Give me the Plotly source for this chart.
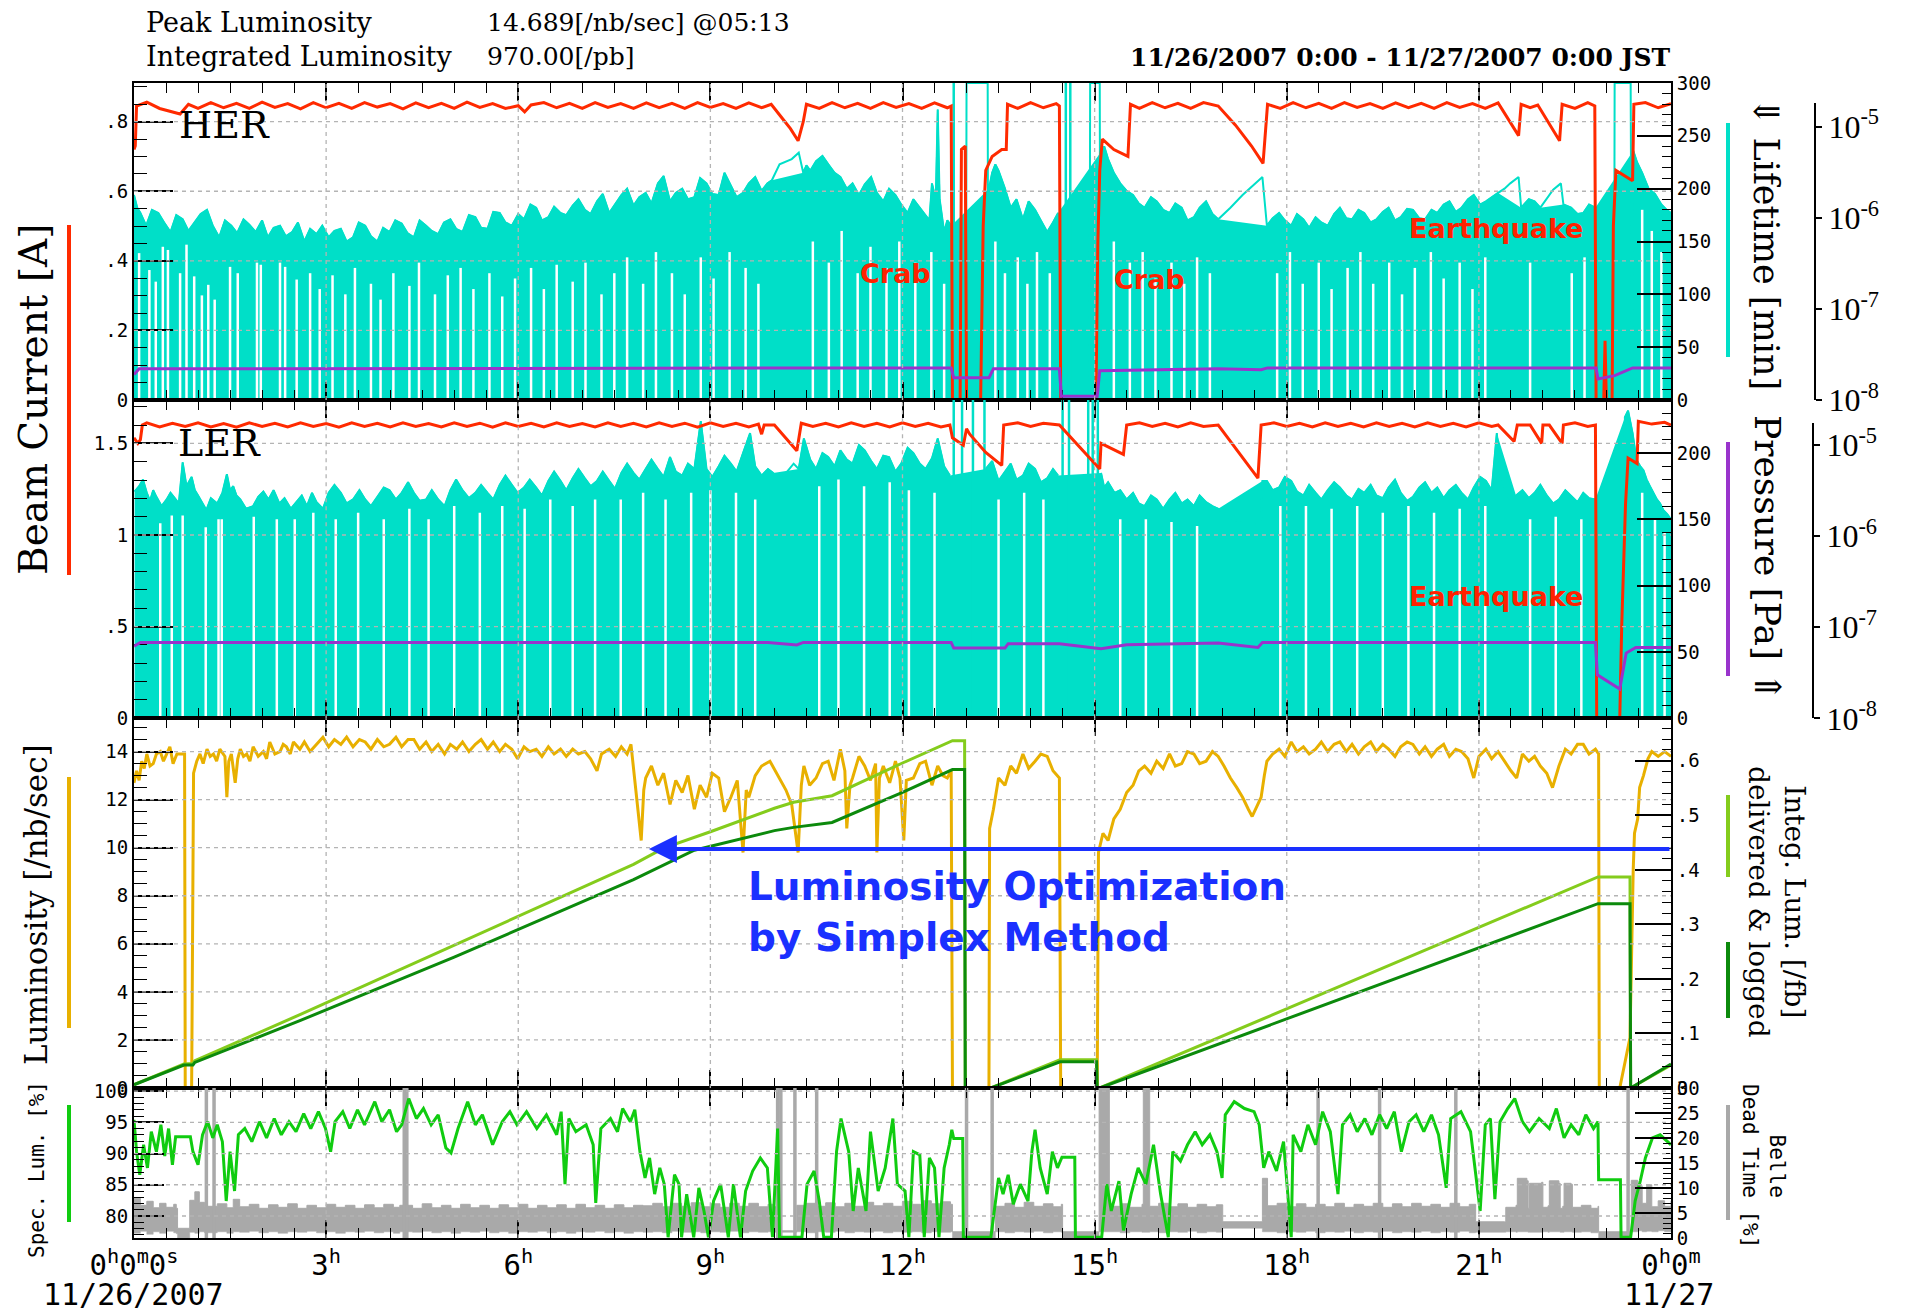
import plotly.graph_objects as go

W, H = 1910, 1308
def px(x): return x / W
def py(y): return 1 - y / H

# ---------------- data (hours since 11/26 0:00) ----------------
her_current = [(0.00,0.72),(0.02,0.73),(0.04,0.845),(0.20,0.856),(0.40,0.838),(0.60,0.828),(0.72,0.822),(0.85,0.850),(1.00,0.838),(1.20,0.855),(1.40,0.840),(1.60,0.853),(1.80,0.838),(2.00,0.856),(2.20,0.841),(2.40,0.852),(2.60,0.837),(2.80,0.855),(3.00,0.840),(3.20,0.853),(3.40,0.838),(3.60,0.855),(3.80,0.842),(4.00,0.852),(4.20,0.837),(4.40,0.854),(4.60,0.840),(4.80,0.853),(5.00,0.838),(5.20,0.856),(5.40,0.841),(5.60,0.852),(5.80,0.838),(6.00,0.846),(6.10,0.828),(6.20,0.848),(6.40,0.855),(6.60,0.840),(6.80,0.853),(7.00,0.838),(7.20,0.855),(7.40,0.841),(7.60,0.852),(7.80,0.838),(8.00,0.854),(8.20,0.840),(8.40,0.853),(8.60,0.838),(8.80,0.855),(9.00,0.841),(9.20,0.852),(9.40,0.838),(9.60,0.854),(9.80,0.840),(9.95,0.850),(10.10,0.815),(10.25,0.780),(10.37,0.745),(10.45,0.800),(10.50,0.850),(10.70,0.838),(10.90,0.855),(11.10,0.840),(11.30,0.853),(11.50,0.838),(11.70,0.855),(11.90,0.841),(12.10,0.852),(12.30,0.838),(12.50,0.854),(12.70,0.840),(12.76,0.845),(12.78,0.0),(12.90,0.0),(12.92,0.72),(12.98,0.73),(13.00,0.0),(13.22,0.0),(13.26,0.50),(13.30,0.66),(13.40,0.70),(13.55,0.72),(13.62,0.72),(13.64,0.850),(13.80,0.838),(14.00,0.855),(14.20,0.840),(14.40,0.852),(14.45,0.845),(14.47,0.0),(15.02,0.0),(15.05,0.45),(15.08,0.66),(15.12,0.75),(15.30,0.72),(15.52,0.70),(15.56,0.850),(15.70,0.838),(15.90,0.855),(16.10,0.840),(16.30,0.853),(16.50,0.838),(16.70,0.855),(16.93,0.845),(17.20,0.790),(17.45,0.730),(17.63,0.680),(17.70,0.850),(17.90,0.838),(18.10,0.855),(18.30,0.840),(18.50,0.853),(18.70,0.838),(18.90,0.855),(19.10,0.841),(19.30,0.852),(19.50,0.838),(19.70,0.854),(19.90,0.840),(20.10,0.853),(20.30,0.838),(20.50,0.855),(20.70,0.841),(20.90,0.852),(21.10,0.838),(21.30,0.854),(21.62,0.760),(21.66,0.850),(21.80,0.840),(21.92,0.848),(22.26,0.745),(22.30,0.850),(22.50,0.838),(22.70,0.855),(22.81,0.845),(22.83,0.0),(22.95,0.0),(22.97,0.17),(22.99,0.0),(23.08,0.0),(23.10,0.50),(23.14,0.66),(23.40,0.63),(23.42,0.850),(23.60,0.855),(23.80,0.840),(24.00,0.852)]

ler_current = [(0.00,1.53),(0.06,1.50),(0.10,1.52),(0.13,1.60),(0.20,1.612),(0.40,1.590),(0.60,1.610),(0.80,1.592),(1.00,1.612),(1.20,1.590),(1.40,1.608),(1.60,1.588),(1.80,1.612),(2.00,1.592),(2.20,1.610),(2.40,1.590),(2.60,1.612),(2.80,1.592),(3.00,1.608),(3.20,1.588),(3.40,1.612),(3.60,1.592),(3.80,1.610),(4.00,1.590),(4.20,1.612),(4.40,1.592),(4.60,1.608),(4.80,1.590),(5.00,1.612),(5.20,1.592),(5.40,1.610),(5.60,1.588),(5.80,1.612),(6.00,1.592),(6.20,1.610),(6.40,1.590),(6.60,1.612),(6.80,1.592),(7.00,1.608),(7.20,1.590),(7.40,1.612),(7.60,1.592),(7.80,1.610),(8.00,1.590),(8.20,1.612),(8.40,1.592),(8.60,1.610),(8.80,1.588),(9.00,1.612),(9.20,1.592),(9.40,1.610),(9.60,1.590),(9.75,1.605),(9.80,1.55),(9.84,1.60),(10.00,1.60),(10.35,1.46),(10.42,1.61),(10.60,1.592),(10.80,1.610),(11.00,1.590),(11.20,1.612),(11.40,1.592),(11.60,1.610),(11.80,1.590),(12.00,1.612),(12.20,1.592),(12.40,1.610),(12.60,1.590),(12.74,1.60),(12.78,1.53),(12.95,1.49),(13.00,1.58),(13.05,1.55),(13.30,1.45),(13.40,1.42),(13.55,1.38),(13.58,1.60),(13.80,1.612),(14.00,1.592),(14.20,1.610),(14.45,1.60),(15.08,1.36),(15.10,1.50),(15.45,1.44),(15.50,1.60),(15.70,1.612),(15.90,1.592),(16.10,1.610),(16.30,1.590),(16.50,1.612),(16.70,1.592),(16.93,1.60),(17.55,1.31),(17.60,1.60),(17.80,1.612),(18.00,1.592),(18.20,1.610),(18.40,1.590),(18.60,1.612),(18.80,1.592),(19.00,1.610),(19.20,1.590),(19.40,1.612),(19.60,1.592),(19.80,1.610),(20.00,1.590),(20.20,1.612),(20.40,1.592),(20.60,1.610),(20.80,1.590),(21.00,1.612),(21.20,1.592),(21.30,1.60),(21.55,1.51),(21.60,1.60),(21.80,1.60),(21.98,1.50),(22.00,1.60),(22.10,1.60),(22.30,1.50),(22.32,1.60),(22.50,1.612),(22.70,1.592),(22.82,1.60),(22.84,0.0),(23.20,0.0),(23.23,0.50),(23.26,0.83),(23.29,1.17),(23.33,1.42),(23.47,1.39),(23.49,1.62),(23.70,1.605),(23.90,1.615),(24.00,1.60)]

her_life = [(0.00,194),(0.05,182),(0.10,177),(0.19,165),(0.28,180),(0.38,177),(0.47,168),(0.57,159),(0.66,175),(0.76,171),(0.85,160),(0.95,169),(1.04,176),(1.14,180),(1.23,165),(1.33,154),(1.42,170),(1.52,165),(1.61,158),(1.71,171),(1.80,166),(1.90,159),(2.00,170),(2.09,154),(2.18,163),(2.28,165),(2.37,155),(2.47,159),(2.56,168),(2.66,150),(2.75,162),(2.85,157),(2.94,165),(3.04,154),(3.13,160),(3.23,162),(3.32,150),(3.42,154),(3.51,168),(3.61,165),(3.70,155),(3.80,150),(3.89,163),(3.99,159),(4.08,170),(4.18,167),(4.27,158),(4.37,154),(4.46,170),(4.56,165),(4.65,160),(4.75,157),(4.84,168),(4.94,171),(5.03,162),(5.13,159),(5.23,175),(5.33,173),(5.42,163),(5.52,162),(5.61,178),(5.71,177),(5.80,168),(5.90,165),(6.00,176),(6.09,171),(6.19,185),(6.28,182),(6.37,170),(6.47,173),(6.56,183),(6.66,177),(6.75,175),(6.85,184),(6.94,190),(7.04,180),(7.13,176),(7.23,188),(7.32,195),(7.42,177),(7.51,185),(7.61,194),(7.70,200),(7.80,184),(7.89,192),(7.99,196),(8.08,186),(8.18,205),(8.27,212),(8.37,188),(8.46,196),(8.56,200),(8.65,190),(8.75,192),(8.84,210),(8.94,205),(9.03,195),(9.13,194),(9.22,215),(9.32,203),(9.41,192),(9.51,196),(9.60,205),(9.70,211),(9.80,198),(9.89,205),(9.96,208),(10.08,223),(10.27,228),(10.38,234),(10.45,215),(10.50,222),(10.56,217),(10.65,226),(10.75,231),(10.84,223),(10.94,215),(11.03,211),(11.13,200),(11.22,205),(11.32,194),(11.41,204),(11.51,211),(11.60,196),(11.70,188),(11.79,200),(11.89,194),(11.98,185),(12.08,177),(12.17,190),(12.27,182),(12.36,175),(12.42,170),(12.46,205),(12.52,190),(12.55,275),(12.58,190),(12.65,159),(12.70,170),(12.76,165),(12.77,None),(12.99,0),(13.00,300),(13.33,300),(13.34,0),(13.35,200),(13.40,215),(13.45,223),(13.50,217),(13.60,200),(13.69,182),(13.78,190),(13.88,171),(13.97,188),(14.07,180),(14.16,170),(14.26,159),(14.35,168),(14.43,177),(14.44,None),(14.92,0),(14.93,300),(15.08,300),(15.09,0),(15.10,235),(15.15,240),(15.21,228),(15.30,215),(15.40,205),(15.50,198),(15.60,194),(15.69,186),(15.78,182),(15.88,192),(15.97,188),(16.07,180),(16.17,177),(16.26,186),(16.36,182),(16.45,170),(16.55,173),(16.64,182),(16.74,188),(16.84,176),(16.93,171),(17.12,182),(17.31,194),(17.50,205),(17.62,211),(17.69,165),(17.78,172),(17.88,177),(17.97,170),(18.07,165),(18.16,176),(18.26,171),(18.35,163),(18.45,173),(18.54,168),(18.64,165),(18.74,176),(18.83,182),(18.93,172),(19.02,171),(19.12,180),(19.21,177),(19.31,168),(19.40,171),(19.50,178),(19.59,182),(19.69,170),(19.78,173),(19.88,181),(19.97,180),(20.07,172),(20.16,171),(20.26,180),(20.35,177),(20.45,185),(20.54,188),(20.64,178),(20.73,182),(20.83,190),(20.92,194),(21.02,185),(21.11,188),(21.20,192),(21.30,196),(21.40,200),(21.49,205),(21.62,211),(21.66,182),(21.78,190),(21.87,188),(21.96,182),(22.06,190),(22.16,199),(22.28,205),(22.32,185),(22.44,182),(22.54,176),(22.63,177),(22.72,185),(22.82,182),(22.83,None),(23.11,0),(23.12,300),(23.37,300),(23.39,0),(23.41,236),(23.47,225),(23.55,215),(23.65,200),(23.75,195),(23.85,185),(23.93,180),(24.00,177)]
her_fill_spans = [(0.0,9.96),(10.45,12.76),(13.35,14.43),(15.10,16.93),(17.69,21.30),(21.66,21.96),(22.32,22.82),(23.41,24.0)]
her_gaps = [(0.08,139),(0.24,123),(0.34,112),(0.45,145),(0.53,142),(0.72,120),(0.82,147),(0.94,117),(1.06,99),(1.16,109),(1.26,95),(1.50,126),(1.62,120),(1.92,130),(1.98,128),(2.28,130),(2.36,126),(2.54,114),(2.75,120),(2.90,105),(3.10,118),(3.30,100),(3.45,125),(3.70,110),(3.85,95),(4.05,120),(4.30,108),(4.45,130),(4.70,100),(4.90,118),(5.10,125),(5.30,105),(5.55,120),(5.75,98),(5.95,115),(6.20,125),(6.40,105),(6.60,128),(6.85,112),(7.05,130),(7.30,100),(7.50,120),(7.70,135),(7.95,110),(8.15,140),(8.40,120),(8.60,100),(8.85,135),(9.05,115),(9.30,140),(9.55,125),(9.75,110),(10.60,150),(10.85,130),(11.05,160),(11.30,120),(11.50,145),(11.75,125),(11.95,150),(12.20,130),(12.45,140),(12.65,110),(13.45,150),(13.60,120),(13.80,135),(13.95,110),(14.10,140),(14.30,120),(15.30,150),(15.55,130),(15.75,140),(15.95,115),(16.20,130),(16.40,110),(16.60,135),(16.80,120),(17.85,120),(18.05,140),(18.25,110),(18.50,130),(18.70,105),(18.95,125),(19.15,140),(19.35,110),(19.60,130),(19.80,100),(20.00,125),(20.25,140),(20.45,115),(20.70,130),(20.90,105),(21.10,135),(21.80,130),(22.45,120),(22.65,135),(23.55,180),(23.70,160),(23.85,140)]
her_spikes = [12.80, 14.55, 14.62]

ler_life = [(0.01,171),(0.08,175),(0.14,180),(0.20,170),(0.25,164),(0.30,172),(0.35,167),(0.43,160),(0.51,165),(0.57,170),(0.62,167),(0.70,162),(0.76,193),(0.82,175),(0.90,182),(0.95,172),(1.00,168),(1.06,163),(1.13,157),(1.20,166),(1.30,162),(1.38,170),(1.45,184),(1.50,172),(1.55,175),(1.60,168),(1.66,165),(1.75,158),(1.86,160),(1.94,167),(2.02,171),(2.10,165),(2.18,172),(2.27,162),(2.35,166),(2.45,158),(2.54,163),(2.62,168),(2.70,160),(2.78,170),(2.85,163),(2.95,158),(3.04,170),(3.13,176),(3.23,170),(3.32,162),(3.42,165),(3.52,172),(3.61,165),(3.70,160),(3.80,167),(3.90,174),(3.99,172),(4.09,165),(4.18,170),(4.28,178),(4.37,170),(4.46,164),(4.56,165),(4.65,172),(4.75,165),(4.85,160),(4.94,172),(5.03,180),(5.13,172),(5.23,166),(5.33,170),(5.42,176),(5.52,170),(5.61,165),(5.71,176),(5.80,183),(5.90,176),(5.99,170),(6.09,174),(6.18,180),(6.28,174),(6.37,168),(6.47,179),(6.56,186),(6.66,179),(6.75,172),(6.85,181),(6.94,188),(7.04,181),(7.13,175),(7.23,179),(7.32,186),(7.42,179),(7.51,173),(7.61,185),(7.70,192),(7.80,185),(7.89,180),(7.99,188),(8.08,195),(8.18,188),(8.27,182),(8.37,197),(8.46,186),(8.56,183),(8.65,192),(8.75,188),(8.85,224),(8.94,188),(9.03,182),(9.13,190),(9.22,198),(9.32,192),(9.41,186),(9.51,200),(9.62,215),(9.70,190),(9.80,183),(9.90,188),(9.98,185),(10.08,179),(10.20,186),(10.30,192),(10.38,188),(10.46,211),(10.56,195),(10.65,188),(10.75,200),(10.84,197),(10.94,190),(11.03,202),(11.13,195),(11.22,192),(11.32,206),(11.41,202),(11.51,194),(11.60,188),(11.70,198),(11.79,197),(11.89,186),(11.98,192),(12.08,204),(12.17,200),(12.27,192),(12.36,188),(12.46,196),(12.55,211),(12.65,190),(12.74,183),(12.77,None),(13.30,188),(13.40,194),(13.50,179),(13.60,186),(13.69,192),(13.78,180),(13.88,183),(13.97,192),(14.07,188),(14.16,178),(14.26,181),(14.35,188),(14.43,183),(14.44,None),(15.10,185),(15.15,174),(15.21,178),(15.31,170),(15.40,172),(15.50,165),(15.60,170),(15.69,162),(15.78,160),(15.88,168),(15.97,165),(16.07,158),(16.17,165),(16.26,170),(16.36,162),(16.45,165),(16.55,160),(16.64,168),(16.74,163),(16.84,160),(16.93,158),(17.12,151),(17.31,147),(17.50,147),(17.60,150),(17.62,179),(17.69,179),(17.78,172),(17.88,174),(17.97,182),(18.07,179),(18.16,171),(18.26,168),(18.35,176),(18.45,170),(18.54,165),(18.64,172),(18.74,178),(18.83,174),(18.93,168),(19.02,165),(19.12,173),(19.21,170),(19.31,176),(19.40,168),(19.50,166),(19.59,174),(19.69,180),(19.78,170),(19.88,164),(19.97,167),(20.07,174),(20.16,178),(20.26,170),(20.35,174),(20.45,166),(20.54,172),(20.64,176),(20.73,170),(20.83,165),(20.92,174),(21.02,182),(21.11,179),(21.20,172),(21.28,215),(21.35,175),(21.42,170),(21.49,165),(21.58,168),(21.68,172),(21.78,166),(21.87,170),(21.96,176),(22.06,168),(22.16,162),(22.25,165),(22.35,172),(22.44,168),(22.54,163),(22.63,170),(22.72,166),(22.82,165),(22.83,None),(23.27,0),(23.28,227),(23.33,232),(23.40,215),(23.46,195),(23.52,190),(23.57,187),(23.62,180),(23.67,175),(23.72,170),(23.78,165),(23.83,162),(23.88,157),(23.94,154),(24.00,150)]
ler_fill_spans = [(0.0,9.98),(10.38,12.76),(13.30,14.43),(15.10,16.93),(17.62,21.30),(21.58,22.82),(23.28,24.0)]
ler_gaps = [(0.41,147),(0.59,153),(0.76,153),(1.12,144),(1.32,150),(1.37,150),(1.87,152),(2.23,150),(2.51,150),(2.80,155),(3.15,150),(3.50,155),(3.90,150),(4.30,158),(4.60,150),(5.00,160),(5.40,155),(5.75,160),(6.10,158),(6.50,165),(6.85,160),(7.20,165),(7.60,165),(7.95,170),(8.30,165),(8.70,170),(9.00,172),(9.40,170),(9.70,165),(10.70,175),(11.00,180),(11.40,175),(11.80,178),(12.10,172),(12.50,170),(13.50,165),(13.90,170),(14.20,165),(15.40,150),(15.80,150),(16.20,148),(16.60,145),(17.90,160),(18.30,160),(18.70,158),(19.10,160),(19.50,155),(19.90,160),(20.30,155),(20.70,158),(21.10,160),(21.80,150),(22.20,152),(22.60,150),(23.55,170),(23.75,150),(23.90,140)]
ler_spikes = [12.80, 12.93, 13.10, 13.28, 14.50, 14.60, 14.90, 14.97, 15.05]

her_pressure = [(0.0,1.9e-8),(0.08,2.2e-8),(12.76,2.25e-8),(12.80,1.75e-8),(13.35,1.75e-8),(13.42,2.2e-8),(14.45,2.2e-8),(14.48,1.1e-8),(15.04,1.1e-8),(15.08,2.1e-8),(16.93,2.2e-8),(17.60,2.15e-8),(17.70,2.25e-8),(22.83,2.25e-8),(22.86,1.7e-8),(23.12,1.85e-8),(23.40,2.25e-8),(24.0,2.25e-8)]
ler_pressure = [(0.0,6.2e-8),(0.1,6.8e-8),(9.9,6.8e-8),(10.35,6.4e-8),(10.45,6.8e-8),(12.76,6.8e-8),(12.80,5.9e-8),(13.60,5.9e-8),(13.65,6.6e-8),(14.45,6.6e-8),(15.10,5.8e-8),(15.50,6.4e-8),(16.93,6.7e-8),(17.55,6.0e-8),(17.62,6.8e-8),(22.82,6.8e-8),(22.85,3.0e-8),(23.20,2.1e-8),(23.30,5.2e-8),(23.45,6.0e-8),(24.0,6.0e-8)]

luminosity = [(0.00,12.7),(0.04,13.2),(0.08,12.8),(0.12,13.6),(0.16,13.3),(0.20,13.9),(0.25,13.4),(0.30,13.5),(0.35,13.9),(0.41,14.0),(0.46,13.6),(0.51,13.9),(0.56,14.2),(0.61,13.5),(0.67,13.9),(0.74,13.9),(0.79,13.9),(0.80,0.0),(0.90,0.0),(0.93,13.1),(0.98,13.6),(1.03,13.9),(1.08,13.5),(1.14,14.1),(1.19,13.8),(1.24,13.9),(1.29,13.6),(1.34,14.1),(1.42,13.8),(1.45,12.1),(1.48,13.6),(1.52,13.9),(1.58,12.7),(1.62,13.7),(1.66,14.1),(1.71,13.8),(1.76,13.9),(1.81,13.6),(1.86,14.2),(1.94,13.8),(2.02,14.0),(2.07,13.7),(2.12,14.4),(2.20,13.9),(2.28,14.0),(2.33,14.3),(2.38,14.2),(2.44,13.9),(2.49,14.4),(2.59,14.1),(2.66,14.4),(2.75,14.0),(2.85,14.3),(2.95,14.6),(3.04,14.2),(3.13,14.5),(3.23,14.3),(3.32,14.6),(3.42,14.2),(3.52,14.5),(3.61,14.4),(3.70,14.1),(3.80,14.5),(3.90,14.2),(3.99,14.3),(4.09,14.6),(4.18,14.2),(4.28,14.5),(4.37,14.5),(4.46,14.1),(4.56,14.4),(4.65,14.0),(4.75,14.3),(4.85,13.9),(4.94,14.3),(5.04,14.1),(5.13,14.4),(5.23,14.0),(5.33,14.3),(5.42,14.5),(5.52,14.1),(5.61,14.4),(5.71,14.0),(5.80,14.3),(5.90,14.1),(5.99,13.7),(6.09,14.2),(6.18,14.0),(6.28,14.1),(6.37,13.8),(6.47,14.2),(6.56,13.9),(6.66,14.1),(6.75,13.8),(6.85,14.1),(6.94,13.9),(7.04,14.0),(7.13,13.7),(7.23,13.2),(7.30,13.9),(7.42,14.1),(7.52,13.8),(7.61,14.2),(7.70,13.9),(7.76,14.3),(7.84,12.3),(7.92,10.3),(7.96,12.4),(7.99,12.9),(8.08,13.4),(8.18,12.6),(8.27,13.1),(8.37,11.8),(8.46,12.8),(8.56,12.3),(8.65,13.0),(8.75,11.6),(8.84,12.6),(8.94,12.1),(9.03,13.1),(9.13,12.9),(9.22,11.5),(9.32,12.1),(9.42,12.8),(9.51,9.8),(9.56,12.4),(9.60,12.1),(9.70,13.0),(9.80,13.4),(9.93,13.6),(10.08,12.9),(10.18,12.4),(10.27,11.8),(10.33,10.5),(10.37,9.8),(10.42,12.6),(10.46,13.4),(10.55,12.6),(10.65,12.9),(10.75,13.5),(10.84,13.6),(10.93,12.8),(11.03,14.1),(11.10,13.2),(11.13,10.8),(11.18,12.6),(11.22,12.9),(11.32,13.8),(11.41,13.4),(11.50,12.8),(11.58,13.5),(11.60,9.8),(11.64,12.9),(11.70,13.4),(11.80,12.7),(11.89,13.6),(11.96,12.9),(12.02,10.3),(12.06,12.8),(12.17,12.9),(12.27,13.5),(12.36,13.6),(12.46,12.6),(12.55,13.4),(12.63,13.0),(12.70,12.9),(12.76,13.2),(12.78,0.0),(13.35,0.0),(13.36,10.8),(13.42,11.6),(13.50,12.9),(13.60,12.6),(13.69,13.4),(13.78,13.1),(13.88,13.9),(13.97,13.3),(14.07,13.6),(14.16,13.9),(14.26,13.8),(14.35,13.2),(14.45,12.9),(14.47,0.0),(15.04,0.0),(15.06,9.8),(15.13,10.6),(15.21,10.3),(15.30,11.2),(15.40,11.6),(15.50,12.3),(15.60,12.6),(15.69,13.2),(15.78,13.4),(15.88,13.1),(15.97,13.6),(16.07,13.3),(16.17,13.9),(16.26,13.4),(16.36,13.5),(16.45,14.0),(16.55,13.9),(16.64,13.5),(16.74,13.6),(16.84,14.0),(16.93,13.8),(17.02,13.4),(17.12,12.9),(17.22,12.5),(17.31,12.1),(17.40,11.6),(17.46,11.3),(17.53,11.7),(17.60,12.1),(17.65,13.0),(17.69,13.6),(17.78,13.9),(17.88,14.1),(17.97,13.8),(18.07,14.4),(18.16,14.0),(18.26,14.2),(18.35,13.9),(18.45,14.1),(18.54,14.4),(18.64,14.0),(18.74,14.3),(18.83,14.4),(18.93,14.0),(19.02,14.3),(19.12,13.9),(19.21,14.2),(19.31,14.4),(19.40,14.0),(19.50,14.3),(19.59,14.1),(19.69,13.8),(19.78,14.2),(19.88,14.4),(19.97,14.3),(20.07,13.9),(20.16,14.2),(20.26,13.8),(20.35,14.1),(20.45,14.3),(20.54,13.8),(20.64,14.1),(20.73,14.0),(20.83,13.7),(20.92,12.9),(21.00,13.8),(21.11,14.1),(21.20,13.7),(21.30,14.0),(21.40,13.6),(21.50,13.2),(21.59,12.9),(21.65,13.5),(21.68,13.9),(21.78,13.6),(21.87,13.8),(21.96,13.4),(22.06,13.1),(22.15,12.5),(22.25,13.4),(22.35,14.1),(22.44,13.9),(22.54,14.3),(22.63,14.3),(22.72,13.9),(22.82,14.1),(22.87,13.9),(22.88,0.0),(23.20,0.0),(23.36,2.1),(23.41,9.1),(23.43,10.6),(23.48,11.2),(23.51,12.5),(23.57,13.0),(23.64,13.7),(23.70,14.0),(23.80,13.8),(23.90,14.0),(24.00,13.8)]

integ_delivered = [(0.00,0.006),(0.78,0.044),(0.92,0.045),(0.95,0.050),(2.60,0.135),(5.00,0.262),(7.80,0.410),(8.27,0.440),(9.00,0.470),(10.00,0.513),(10.30,0.524),(10.90,0.536),(12.00,0.596),(12.78,0.637),(12.97,0.637),(12.98,0.0),(13.38,0.0),(14.46,0.052),(15.03,0.052),(15.04,0.0),(15.08,0.0),(22.86,0.387),(23.36,0.387),(23.37,0.0),(24.00,0.042)]
integ_logged = [(0.00,0.006),(0.78,0.042),(0.92,0.042),(0.95,0.047),(2.60,0.124),(5.00,0.240),(7.80,0.382),(8.75,0.436),(10.00,0.472),(10.30,0.478),(10.90,0.487),(12.00,0.542),(12.78,0.584),(12.97,0.584),(12.98,0.0),(13.38,0.0),(14.46,0.048),(15.03,0.048),(15.04,0.0),(15.08,0.0),(22.86,0.338),(23.36,0.338),(23.37,0.0),(24.00,0.044)]

spec_lumi = [(0.00,95.4),(0.04,90.3),(0.09,86.6),(0.15,91.4),(0.21,87.7),(0.27,93.5),(0.35,90.3),(0.42,94.6),(0.48,89.6),(0.54,94.0),(0.60,88.2),(0.65,92.7),(0.88,92.7),(0.92,90.3),(1.00,88.2),(1.07,93.0),(1.15,95.1),(1.23,92.5),(1.30,94.6),(1.38,91.9),(1.44,82.4),(1.50,90.3),(1.57,84.0),(1.63,93.0),(1.73,94.0),(1.84,91.9),(1.96,95.1),(2.07,92.5),(2.19,95.6),(2.30,93.0),(2.42,95.1),(2.53,93.5),(2.65,96.4),(2.76,94.0),(2.88,96.7),(2.99,94.0),(3.07,90.3),(3.14,95.1),(3.26,96.7),(3.37,94.0),(3.49,97.0),(3.60,94.6),(3.76,98.3),(3.87,95.1),(3.99,97.0),(4.10,93.5),(4.18,94.6),(4.29,98.8),(4.41,95.6),(4.52,97.2),(4.64,94.6),(4.75,96.2),(4.87,90.9),(4.95,90.1),(5.06,94.0),(5.21,98.3),(5.33,94.6),(5.44,96.2),(5.60,91.4),(5.75,95.1),(5.87,96.7),(5.98,94.6),(6.13,96.7),(6.29,94.0),(6.44,96.2),(6.60,93.0),(6.67,96.7),(6.73,85.1),(6.79,95.6),(6.90,93.5),(7.06,94.6),(7.17,91.4),(7.21,82.1),(7.29,94.0),(7.44,95.6),(7.55,93.5),(7.63,97.2),(7.75,95.1),(7.82,97.0),(7.90,90.3),(7.98,86.1),(8.05,89.3),(8.13,83.5),(8.21,87.7),(8.28,85.1),(8.34,76.6),(8.44,86.6),(8.51,85.1),(8.55,76.6),(8.63,83.5),(8.74,76.6),(8.82,84.5),(8.90,80.8),(8.97,76.6),(9.05,82.4),(9.16,85.1),(9.28,76.6),(9.36,85.1),(9.47,76.6),(9.55,84.0),(9.66,87.2),(9.78,89.3),(9.89,87.7),(9.97,76.6),(10.05,94.0),(10.08,76.6),(10.43,76.6),(10.51,85.1),(10.62,87.2),(10.70,82.4),(10.77,76.6),(10.89,76.6),(10.97,90.3),(11.04,95.6),(11.16,90.3),(11.23,80.8),(11.31,87.7),(11.43,80.8),(11.50,93.5),(11.62,84.0),(11.73,87.7),(11.85,95.6),(11.92,85.1),(12.04,84.0),(12.10,76.6),(12.17,90.3),(12.27,89.8),(12.34,76.6),(12.42,89.3),(12.50,87.7),(12.57,76.6),(12.65,87.7),(12.73,91.4),(12.77,93.8),(12.80,92.4),(12.94,92.4),(12.95,76.6),(13.38,76.6),(13.42,79.8),(13.50,86.1),(13.57,83.5),(13.65,86.6),(13.73,81.9),(13.84,85.1),(13.96,82.4),(14.02,90.3),(14.07,93.8),(14.15,87.7),(14.26,83.5),(14.34,90.3),(14.42,87.7),(14.49,89.4),(14.69,89.4),(14.70,76.6),(15.11,76.6),(15.19,85.1),(15.26,80.8),(15.38,85.6),(15.45,77.7),(15.57,83.5),(15.68,87.7),(15.80,85.1),(15.92,91.4),(16.03,83.5),(16.15,76.6),(16.22,90.3),(16.34,88.8),(16.45,91.4),(16.57,93.5),(16.68,91.4),(16.80,93.0),(16.91,90.3),(16.99,86.1),(17.04,96.2),(17.18,98.3),(17.34,97.2),(17.49,96.7),(17.57,94.6),(17.64,87.7),(17.72,90.3),(17.84,87.2),(17.95,91.9),(18.07,76.6),(18.10,93.0),(18.22,90.3),(18.33,94.6),(18.45,91.4),(18.56,96.7),(18.68,93.5),(18.80,83.5),(18.87,94.6),(18.99,96.2),(19.10,93.5),(19.22,95.6),(19.33,93.0),(19.45,96.2),(19.56,94.0),(19.68,96.7),(19.79,90.3),(19.91,95.1),(20.02,96.2),(20.14,93.5),(20.26,96.2),(20.37,93.0),(20.49,84.5),(20.56,95.6),(20.72,96.7),(20.87,93.5),(21.02,80.8),(21.10,94.6),(21.18,95.6),(21.25,82.7),(21.33,95.1),(21.45,97.2),(21.56,98.8),(21.68,95.1),(21.79,93.5),(21.94,95.6),(22.10,94.0),(22.21,97.2),(22.33,92.5),(22.44,94.6),(22.56,93.0),(22.67,96.2),(22.79,94.0),(22.86,95.1),(22.87,85.8),(23.21,85.8),(23.22,76.6),(23.37,76.6),(23.44,82.4),(23.52,85.6),(23.60,89.3),(23.71,92.5),(23.83,93.0),(24.00,91.4)]

dead_time = [(0.00,1.0,8.0),(0.10,1.4,6.6),(0.20,0.8,7.4),(0.30,1.3,6.1),(0.40,1.0,7.0),(0.50,1.4,6.2),(0.62,1.1,6.8),(0.66,0.9,6.0),(0.68,0.0,2.0),(0.84,0.0,2.0),(0.87,1.2,7.6),(0.95,1.0,9.3),(1.02,1.3,7.2),(1.10,1.1,6.4),(1.30,1.3,6.9),(1.45,1.0,6.1),(1.55,1.3,7.8),(1.65,1.2,6.3),(1.80,1.4,6.8),(1.95,1.1,6.0),(2.10,1.3,6.7),(2.25,1.0,6.2),(2.40,1.3,6.9),(2.55,1.2,6.0),(2.70,1.4,6.6),(2.85,1.1,6.1),(3.00,1.3,6.8),(3.15,1.0,6.2),(3.30,1.3,6.6),(3.45,1.2,6.0),(3.60,1.4,6.7),(3.75,1.1,6.1),(3.90,1.3,6.8),(4.05,1.0,6.2),(4.15,1.3,6.6),(4.35,1.2,6.0),(4.50,1.4,6.9),(4.65,1.1,6.1),(4.80,1.3,6.6),(4.95,1.0,6.0),(5.10,1.3,6.8),(5.25,1.2,6.1),(5.40,1.4,6.6),(5.55,1.1,6.0),(5.70,1.3,6.7),(5.85,1.0,6.1),(6.00,1.3,6.8),(6.15,1.2,6.0),(6.30,1.4,6.6),(6.45,1.1,6.1),(6.60,1.3,6.7),(6.75,1.0,6.0),(6.90,1.3,6.8),(7.05,1.2,6.1),(7.20,1.4,6.6),(7.35,1.1,6.0),(7.50,1.3,6.7),(7.65,1.0,6.1),(7.80,1.3,6.6),(7.95,1.2,6.5),(8.10,1.3,7.0),(8.25,1.1,6.3),(8.40,1.4,7.0),(8.55,1.2,6.4),(8.70,1.3,7.1),(8.85,1.1,6.3),(9.00,1.3,6.9),(9.15,1.2,6.2),(9.30,1.4,7.0),(9.45,1.1,6.4),(9.60,1.3,7.0),(9.75,1.2,6.3),(9.90,1.3,6.8),(10.00,1.2,6.3),(10.08,1.2,1.5),(10.28,1.2,1.5),(10.35,1.3,6.6),(10.50,1.1,7.0),(10.65,1.3,6.4),(10.80,1.2,7.1),(10.95,1.4,6.3),(11.10,1.1,7.0),(11.25,1.3,6.4),(11.40,1.2,7.2),(11.55,1.4,6.5),(11.70,1.1,7.0),(11.85,1.3,6.4),(12.00,1.2,7.4),(12.15,1.3,6.8),(12.30,1.1,7.5),(12.45,1.3,6.9),(12.60,1.2,7.3),(12.75,1.3,6.8),(12.78,0.0,1.3),(13.42,0.0,1.3),(13.45,1.3,6.4),(13.60,1.1,7.0),(13.75,1.3,6.2),(13.90,1.2,7.2),(14.05,1.4,6.4),(14.20,1.1,6.9),(14.35,1.3,6.3),(14.48,1.2,6.8),(14.50,0.0,1.3),(15.06,0.0,1.3),(15.07,1.3,30.5),(15.22,1.3,30.5),(15.23,1.3,6.4),(15.40,1.1,6.9),(15.55,1.3,6.2),(15.74,1.2,6.8),(15.76,1.2,30.5),(15.84,1.2,30.5),(15.86,1.3,6.4),(16.00,1.1,7.0),(16.15,1.3,6.3),(16.30,1.2,6.9),(16.45,1.4,6.2),(16.60,1.1,6.8),(16.75,1.3,6.3),(16.90,1.2,6.7),(17.00,2.0,3.3),(17.58,2.0,3.3),(17.62,1.3,12.0),(17.68,1.3,12.0),(17.70,1.3,6.5),(17.85,1.1,7.0),(18.00,1.3,6.3),(18.15,1.2,6.9),(18.30,1.4,6.2),(18.45,1.1,6.8),(18.60,1.3,6.3),(18.75,1.2,7.0),(18.90,1.4,6.2),(19.05,1.1,6.8),(19.20,1.3,6.4),(19.35,1.2,7.0),(19.50,1.4,6.2),(19.65,1.1,6.9),(19.80,1.3,6.3),(19.95,1.2,7.0),(20.10,1.4,6.4),(20.25,1.1,6.8),(20.40,1.3,6.2),(20.55,1.2,7.0),(20.70,1.4,6.3),(20.85,1.1,6.8),(20.95,1.2,3.3),(21.40,1.2,3.3),(21.42,1.3,6.2),(21.58,1.2,6.6),(21.60,1.3,12.0),(21.75,1.3,11.5),(21.77,1.2,6.0),(21.79,1.2,11.0),(21.98,1.2,11.2),(22.00,1.3,6.2),(22.08,1.2,6.5),(22.10,1.3,11.5),(22.25,1.3,11.0),(22.27,1.2,6.0),(22.31,1.2,6.4),(22.33,1.3,11.0),(22.44,1.3,10.8),(22.46,1.2,6.2),(22.60,1.3,6.6),(22.75,1.1,6.0),(22.86,1.2,6.4),(22.87,0.0,1.3),(23.36,0.0,1.3),(23.38,1.3,11.6),(23.48,1.5,10.5),(23.55,1.3,7.0),(23.62,1.4,10.7),(23.70,1.3,6.3),(23.80,1.5,7.5),(23.90,1.3,6.4),(24.00,1.4,7.5)]
dead_spikes = [1.13, 1.25, 4.22, 4.26, 10.05, 10.10, 10.32, 10.66, 13.00, 13.40, 18.49, 19.45, 20.64, 23.33]

hour_ticks = [0, 3, 6, 9, 12, 15, 18, 21, 24]
hour_labels = ["0<sup>h</sup>0<sup>m</sup>0<sup>s</sup>", "3<sup>h</sup>", "6<sup>h</sup>", "9<sup>h</sup>", "12<sup>h</sup>",
               "15<sup>h</sup>", "18<sup>h</sup>", "21<sup>h</sup>", "0<sup>h</sup>0<sup>m</sup>"]

# ---------------- helpers ----------------
def split(pairs):
    return [p[0] for p in pairs], [p[1] for p in pairs]

def masked(pairs, spans):
    xs, ys = [], []
    for a, b in spans:
        for t, v in pairs:
            if v is not None and a <= t <= b:
                xs.append(t); ys.append(v)
        xs.append(None); ys.append(None)
    return xs, ys

def verticals(pairs):
    xs, ys = [], []
    for t, h in pairs:
        xs += [t, t, None]; ys += [0, h, None]
    return xs, ys

CYAN = "#00dfc8"; RED = "#ff2a00"; PURPLE = "#9933cc"; ORANGE = "#e8b000"
LGREEN = "#84cc1c"; DGREEN = "#0c8a0c"; SGREEN = "#10cc10"; GRAY = "#a9a9a9"; BLUE = "#1a30ff"

fig = go.Figure()

def life_traces(pairs, spans, gaps, spikes, top, xa, ya):
    fx, fy = masked(pairs, spans)
    fig.add_trace(go.Scatter(x=fx, y=fy, mode="lines", fill="tozeroy", fillcolor=CYAN,
                             line=dict(color=CYAN, width=1.5), xaxis=xa, yaxis=ya, hoverinfo="skip"))
    gx, gy = verticals(gaps)
    fig.add_trace(go.Scatter(x=gx, y=gy, mode="lines", line=dict(color="white", width=2.5),
                             xaxis=xa, yaxis=ya, hoverinfo="skip"))
    sx, sy = verticals([(t, top) for t in spikes])
    fig.add_trace(go.Scatter(x=sx, y=sy, mode="lines", line=dict(color=CYAN, width=2.5),
                             xaxis=xa, yaxis=ya, hoverinfo="skip"))
    ex, ey = split(pairs)
    fig.add_trace(go.Scatter(x=ex, y=ey, mode="lines", line=dict(color=CYAN, width=2),
                             xaxis=xa, yaxis=ya, hoverinfo="skip", connectgaps=False))

# HER
life_traces(her_life, her_fill_spans, her_gaps, her_spikes, 300, "x", "y")
tx, ty = split(her_pressure)
fig.add_trace(go.Scatter(x=tx, y=ty, mode="lines", line=dict(color=PURPLE, width=3), xaxis="x", yaxis="y9"))
tx, ty = split(her_current)
fig.add_trace(go.Scatter(x=tx, y=ty, mode="lines", line=dict(color=RED, width=3), xaxis="x", yaxis="y2"))
# LER
life_traces(ler_life, ler_fill_spans, ler_gaps, ler_spikes, 240, "x2", "y3")
tx, ty = split(ler_pressure)
fig.add_trace(go.Scatter(x=tx, y=ty, mode="lines", line=dict(color=PURPLE, width=3), xaxis="x2", yaxis="y10"))
tx, ty = split(ler_current)
fig.add_trace(go.Scatter(x=tx, y=ty, mode="lines", line=dict(color=RED, width=3), xaxis="x2", yaxis="y4"))
# Luminosity
tx, ty = split(luminosity)
fig.add_trace(go.Scatter(x=tx, y=ty, mode="lines", line=dict(color=ORANGE, width=3), xaxis="x3", yaxis="y5"))
tx, ty = split(integ_delivered)
fig.add_trace(go.Scatter(x=tx, y=ty, mode="lines", line=dict(color=LGREEN, width=3), xaxis="x3", yaxis="y6"))
tx, ty = split(integ_logged)
fig.add_trace(go.Scatter(x=tx, y=ty, mode="lines", line=dict(color=DGREEN, width=3), xaxis="x3", yaxis="y6"))
# Spec lumi / dead time
dt_t = [d[0] for d in dead_time]; dt_lo = [d[1] for d in dead_time]; dt_hi = [d[2] for d in dead_time]
fig.add_trace(go.Scatter(x=dt_t, y=dt_lo, mode="lines", line=dict(color=GRAY, width=0.5), line_shape="hv",
                         xaxis="x4", yaxis="y7"))
fig.add_trace(go.Scatter(x=dt_t, y=dt_hi, mode="lines", fill="tonexty", fillcolor=GRAY, line_shape="hv",
                         line=dict(color=GRAY, width=1), xaxis="x4", yaxis="y7"))
sx, sy = verticals([(t, 30.5) for t in dead_spikes])
fig.add_trace(go.Scatter(x=sx, y=sy, mode="lines", line=dict(color=GRAY, width=3.5), xaxis="x4", yaxis="y7"))
tx, ty = split(spec_lumi)
fig.add_trace(go.Scatter(x=tx, y=ty, mode="lines", line=dict(color=SGREEN, width=3), xaxis="x4", yaxis="y8"))

# ---------------- axes ----------------
X0, X1 = px(134), px(1671)
HER_DOM = [py(400), py(83)]
LER_DOM = [py(718.3), py(400)]
LUM_DOM = [py(1088), py(718.3)]
SPEC_DOM = [py(1238.3), py(1088)]

TICKFONT = dict(family="DejaVu Sans Mono", size=19, color="black")
common_x = dict(domain=[X0, X1], range=[0, 24], showgrid=False, zeroline=False, showline=True, automargin=False,
                linecolor="black", linewidth=2, mirror="ticks", ticks="inside", ticklen=18, tickwidth=1.5,
                tickcolor="black", tickmode="array", tickvals=hour_ticks, ticktext=hour_labels,
                minor=dict(tickmode="linear", tick0=0, dtick=0.5, ticks="inside", ticklen=10,
                           tickcolor="black", tickwidth=1.2, showgrid=False),
                tickfont=dict(family="DejaVu Sans Mono", size=29, color="black"))

def yax(dom=None, rng=None, side="left", anchor="x", overlaying=None, vals=None, texts=None,
        major=39, mdt=None, mlen=12):
    d = dict(range=rng, side=side, anchor=anchor, showgrid=False, zeroline=False, showline=True, automargin=False,
             linecolor="black", linewidth=2, ticks="inside", ticklen=major, tickwidth=1.5, tickcolor="black",
             tickmode="array", tickvals=vals, ticktext=texts, tickfont=TICKFONT)
    if dom is not None:
        d["domain"] = dom
    if overlaying:
        d["overlaying"] = overlaying
    if mdt:
        d["minor"] = dict(tickmode="linear", tick0=0, dtick=mdt, ticks="inside", ticklen=mlen,
                          tickcolor="black", tickwidth=1.2, showgrid=False)
    return d

def logax(dom, rng, pos):
    return dict(type="log", domain=dom, range=rng, anchor="free", position=pos, side="right", automargin=False,
                showgrid=False, zeroline=False, showline=True, linecolor="black", linewidth=2,
                ticks="outside", ticklen=6, tickwidth=2, tickcolor="black", tickmode="array",
                tickvals=[1e-8, 1e-7, 1e-6, 1e-5],
                ticktext=["10<sup>-8</sup>", "10<sup>-7</sup>", "10<sup>-6</sup>", "10<sup>-5</sup>"],
                tickfont=dict(family="Liberation Serif", size=32, color="black"))

fig.update_layout(
    template="none",
    xaxis=dict(common_x, anchor="y", showticklabels=False),
    xaxis2=dict(common_x, anchor="y3", matches="x", showticklabels=False),
    xaxis3=dict(common_x, anchor="y5", matches="x", showticklabels=False),
    xaxis4=dict(common_x, anchor="y7", matches="x", showticklabels=True),
    yaxis=yax(HER_DOM, [0, 300], "right", "x", None, [0, 50, 100, 150, 200, 250, 300],
              ["0", "50", "100", "150", "200", "250", "300"], 34, 10, 9),
    yaxis2=yax(None, [0, 0.9112], "left", "x", "y", [0, 0.2, 0.4, 0.6, 0.8],
               ["0", ".2", ".4", ".6", ".8"], 39, 0.05, 13),
    yaxis3=yax(LER_DOM, [0, 240], "right", "x2", None, [0, 50, 100, 150, 200],
               ["0", "50", "100", "150", "200"], 34, 10, 9),
    yaxis4=yax(None, [0, 1.7365], "left", "x2", "y3", [0, 0.5, 1, 1.5],
               ["0", ".5", "1", "1.5"], 39, 0.1, 13),
    yaxis5=yax(LUM_DOM, [0, 15.385], "left", "x3", None, [0, 2, 4, 6, 8, 10, 12, 14],
               ["0", "2", "4", "6", "8", "10", "12", "14"], 39, 0.5, 13),
    yaxis6=yax(None, [0, 0.678], "right", "x3", "y5", [0, 0.1, 0.2, 0.3, 0.4, 0.5, 0.6],
               ["0", ".1", ".2", ".3", ".4", ".5", ".6"], 36, 0.02, 9),
    yaxis7=yax(SPEC_DOM, [0, 30.06], "right", "x4", None, [0, 5, 10, 15, 20, 25, 30],
               ["0", "5", "10", "15", "20", "25", "30"], 36, 1, 8),
    yaxis8=yax(None, [76.43, 100.49], "left", "x4", "y7", [80, 85, 90, 95, 100],
               ["80", "85", "90", "95", "100"], 30, 1, 10),
    yaxis9=logax([py(400), py(103)], [-8, -4.740], px(1815)),
    yaxis10=logax([py(718.3), py(423)], [-8, -4.758], px(1813)),
    width=W, height=H, margin=dict(l=0, r=0, t=0, b=0, pad=0), autosize=False,
    paper_bgcolor="white", plot_bgcolor="rgba(0,0,0,0)", showlegend=False,
    font=dict(family="DejaVu Sans Mono", color="black"),
)

# ---------------- grid lines (above data, like the original) ----------------
shapes = []
GRID = dict(color="#b4b4b4", width=1.3, dash="4px,4px")
for v in [0.2, 0.4, 0.6, 0.8]:
    shapes.append(dict(type="line", xref="x", yref="y2", x0=0, x1=24, y0=v, y1=v, line=GRID, layer="above"))
for v in [0.5, 1.0, 1.5]:
    shapes.append(dict(type="line", xref="x2", yref="y4", x0=0, x1=24, y0=v, y1=v, line=GRID, layer="above"))
for v in [2, 4, 6, 8, 10, 12, 14]:
    shapes.append(dict(type="line", xref="x3", yref="y5", x0=0, x1=24, y0=v, y1=v, line=GRID, layer="above"))
for v in [80, 85, 90, 95, 100]:
    shapes.append(dict(type="line", xref="x4", yref="y8", x0=0, x1=24, y0=v, y1=v, line=GRID, layer="above"))
for xa, ya in [("x", "y"), ("x2", "y3"), ("x3", "y5"), ("x4", "y7")]:
    for h in hour_ticks[1:-1]:
        shapes.append(dict(type="line", xref=xa, yref=ya + " domain", x0=h, x1=h, y0=0, y1=1, line=GRID, layer="above"))

# colour keys next to the axis titles
def key(x, y0, y1, color):
    shapes.append(dict(type="line", xref="paper", yref="paper", x0=px(x), x1=px(x), y0=py(y0), y1=py(y1),
                       line=dict(color=color, width=4)))
key(69, 225, 575, RED); key(69, 777, 1028, ORANGE); key(69, 1105, 1222, SGREEN)
key(1728, 123, 357, CYAN); key(1728, 442, 676, PURPLE)
key(1728, 795, 877, LGREEN); key(1728, 942, 1018, DGREEN); key(1728, 1105, 1220, GRAY)
fig.update_layout(shapes=shapes)

# ---------------- text ----------------
ann = []
def text(x, y, s, size, family="DejaVu Serif", color="black", xanchor="center", yanchor="middle", angle=0):
    ann.append(dict(x=px(x), y=py(y), xref="paper", yref="paper", text=s, showarrow=False, textangle=angle,
                    xanchor=xanchor, yanchor=yanchor, font=dict(family=family, size=size, color=color)))

text(144, 22, "Peak Luminosity", 27, xanchor="left")
text(485, 22, "14.689[/nb/sec] @05:13", 25, xanchor="left")
text(144, 56, "Integrated Luminosity", 27, xanchor="left")
text(485, 56, "970.00[/pb]", 25, xanchor="left")
text(1672, 58, "<b>11/26/2007 0:00 - 11/27/2007 0:00 JST</b>", 25, xanchor="right")
text(224, 125, "HER", 38)
text(219, 443, "LER", 38)
text(33, 400, "Beam Current [A]", 39, angle=-90)
text(36, 905, "Luminosity [/nb/sec]", 31, angle=-90)
text(37, 1170, "Spec. Lum. [%]", 21, family="DejaVu Sans Mono", angle=-90)
text(1766, 243, "\u21d3 Lifetime [min]", 35, angle=90)
text(1768, 558, "Pressure [Pa] \u21d1", 36, angle=90)
text(1777, 902, "Integ. Lum. [/fb]<br>delivered &amp; logged", 28, angle=90)
text(1764, 1166, "Belle<br>Dead Time [%]", 21, family="DejaVu Sans Mono", angle=90)
text(133, 1294, "11/26/2007", 30, family="DejaVu Sans Mono")
text(1669, 1294, "11/27", 30, family="DejaVu Sans Mono")
text(895, 273, "<b>Crab</b>", 27, family="DejaVu Sans", color="#ff2200")
text(1149, 279, "<b>Crab</b>", 27, family="DejaVu Sans", color="#ff2200")
text(1496, 228, "<b>Earthquake</b>", 27, family="DejaVu Sans", color="#ff2200")
text(1496, 596, "<b>Earthquake</b>", 27, family="DejaVu Sans", color="#ff2200")
text(746, 887, "<b>Luminosity Optimization</b>", 39, family="DejaVu Sans", color=BLUE, xanchor="left")
text(746, 937, "<b>by Simplex Method</b>", 39, family="DejaVu Sans", color=BLUE, xanchor="left")

# blue arrow (Simplex optimisation period)
arrow_start, arrow_end, arrow_level = 24.0, 8.04, 9.95
ann.append(dict(x=arrow_end, y=arrow_level, xref="x3", yref="y5", ax=arrow_start, ay=arrow_level,
                axref="x3", ayref="y5", text="", showarrow=True, arrowhead=2, arrowsize=1.4,
                arrowwidth=4, arrowcolor=BLUE, standoff=0))
fig.update_layout(annotations=ann)

fig.write_html("out.html", config={"displayModeBar": False},
               post_script="document.body.style.margin='0';document.body.style.overflow='hidden';")
